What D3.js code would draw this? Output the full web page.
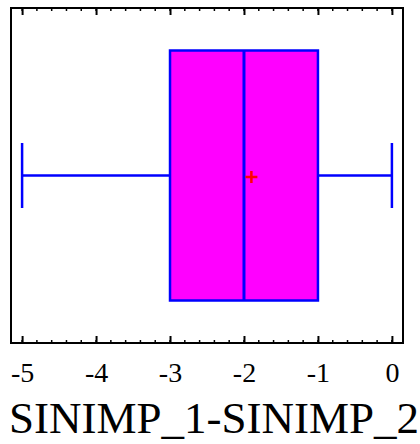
<!DOCTYPE html>
<html>
<head>
<meta charset="utf-8">
<script src="https://cdn.jsdelivr.net/npm/d3@7"></script>
<style>
  body { margin: 0; background: #fff; }
  svg { display: block; }
  text { font-family: "Liberation Serif", "Times New Roman", serif; }
</style>
</head>
<body>
<div id="chart"></div>
<script>
// box plot values
var categories = ["SINIMP_1-SINIMP_2"];
var mins = [-5];
var q1s = [-3];
var medians = [-2];
var q3s = [-1];
var maxs = [0];
var means = [-1.9];
var tickValues = [-5, -4, -3, -2, -1, 0];
var axisTitle = "SINIMP_1-SINIMP_2";

var w = 420, h = 444;
var plotLeft = 11, plotRight = 403, plotTop = 8, plotBottom = 343;
var serif = "Liberation Serif";

var svg = d3.select("#chart").append("svg")
  .attr("width", w)
  .attr("height", h);

var x = d3.scaleLinear().domain([-5.15, 0.15]).range([plotLeft, plotRight]);
var y = d3.scaleBand().domain(categories).range([plotTop, plotBottom]).paddingInner(0).paddingOuter(0.17);

var minorTicks = d3.range(-5, 0.001, 0.2).map(function(d) { return Math.round(d * 10) / 10; });

// minor ticks top and bottom (inward)
var minorG = svg.append("g");
minorG.selectAll("line.bot").data(minorTicks).enter().append("line")
  .attr("class", "bot")
  .attr("x1", function(d) { return x(d); }).attr("x2", function(d) { return x(d); })
  .attr("y1", plotBottom).attr("y2", plotBottom - 3)
  .attr("stroke", "#000").attr("stroke-width", 1.5);
minorG.selectAll("line.top").data(minorTicks).enter().append("line")
  .attr("class", "top")
  .attr("x1", function(d) { return x(d); }).attr("x2", function(d) { return x(d); })
  .attr("y1", plotTop).attr("y2", plotTop + 3)
  .attr("stroke", "#000").attr("stroke-width", 1.5);

// bottom axis with major ticks
var axisB = d3.axisBottom(x).tickValues(tickValues).tickSizeInner(-7).tickSizeOuter(0).tickPadding(19);
var gB = svg.append("g").attr("transform", "translate(0," + plotBottom + ")").call(axisB)
  .attr("font-family", serif).attr("font-size", 28);
gB.select(".domain").remove();
gB.selectAll(".tick line").attr("stroke", "#000").attr("stroke-width", 2);
gB.selectAll(".tick text")
  .text(function(d) { return d < 0 ? "-" + Math.abs(d) : d; })
  .attr("fill", "#000");

var axisT = d3.axisTop(x).tickValues(tickValues).tickSizeInner(-7).tickSizeOuter(0).tickFormat("");
var gT = svg.append("g").attr("transform", "translate(0," + plotTop + ")").call(axisT);
gT.select(".domain").remove();
gT.selectAll(".tick line").attr("stroke", "#000").attr("stroke-width", 2);

// frame
svg.append("rect")
  .attr("x", plotLeft).attr("y", plotTop)
  .attr("width", plotRight - plotLeft).attr("height", plotBottom - plotTop)
  .attr("fill", "none").attr("stroke", "#000").attr("stroke-width", 2);

// box plot
var boxes = categories.map(function(c, i) {
  return { cat: c, min: mins[i], q1: q1s[i], med: medians[i], q3: q3s[i], max: maxs[i], mean: means[i] };
});

var g = svg.selectAll("g.box").data(boxes).enter().append("g").attr("class", "box");
var cy = function(d) { return y(d.cat) + y.bandwidth() / 2; };
var capHalf = y.bandwidth() * 0.13;

// whiskers
g.append("line")
  .attr("x1", function(d) { return x(d.min); }).attr("x2", function(d) { return x(d.q1); })
  .attr("y1", cy).attr("y2", cy)
  .attr("stroke", "#0000ff").attr("stroke-width", 2.5);
g.append("line")
  .attr("x1", function(d) { return x(d.q3); }).attr("x2", function(d) { return x(d.max); })
  .attr("y1", cy).attr("y2", cy)
  .attr("stroke", "#0000ff").attr("stroke-width", 2.5);
g.append("line")
  .attr("x1", function(d) { return x(d.min); }).attr("x2", function(d) { return x(d.min); })
  .attr("y1", function(d) { return cy(d) - capHalf; }).attr("y2", function(d) { return cy(d) + capHalf; })
  .attr("stroke", "#0000ff").attr("stroke-width", 2.5);
g.append("line")
  .attr("x1", function(d) { return x(d.max); }).attr("x2", function(d) { return x(d.max); })
  .attr("y1", function(d) { return cy(d) - capHalf; }).attr("y2", function(d) { return cy(d) + capHalf; })
  .attr("stroke", "#0000ff").attr("stroke-width", 2.5);

// box
g.append("rect")
  .attr("x", function(d) { return x(d.q1); })
  .attr("y", function(d) { return y(d.cat); })
  .attr("width", function(d) { return x(d.q3) - x(d.q1); })
  .attr("height", y.bandwidth())
  .attr("fill", "#ff00ff").attr("stroke", "#0000ff").attr("stroke-width", 2.5);

// median
g.append("line")
  .attr("x1", function(d) { return x(d.med); }).attr("x2", function(d) { return x(d.med); })
  .attr("y1", function(d) { return y(d.cat); }).attr("y2", function(d) { return y(d.cat) + y.bandwidth(); })
  .attr("stroke", "#0000ff").attr("stroke-width", 3);

// mean marker (+)
g.append("path")
  .attr("d", function(d) {
    var mx = x(d.mean), my = cy(d) + 1.5;
    return "M" + (mx - 6) + "," + my + "H" + (mx + 6) + "M" + mx + "," + (my - 6) + "V" + (my + 6);
  })
  .attr("stroke", "#ff0000").attr("stroke-width", 2.5).attr("fill", "none");

// axis title
svg.append("text")
  .attr("x", 214).attr("y", 433)
  .attr("text-anchor", "middle")
  .attr("font-family", serif)
  .attr("font-size", 45)
  .attr("fill", "#000")
  .text(axisTitle);
</script>
</body>
</html>
